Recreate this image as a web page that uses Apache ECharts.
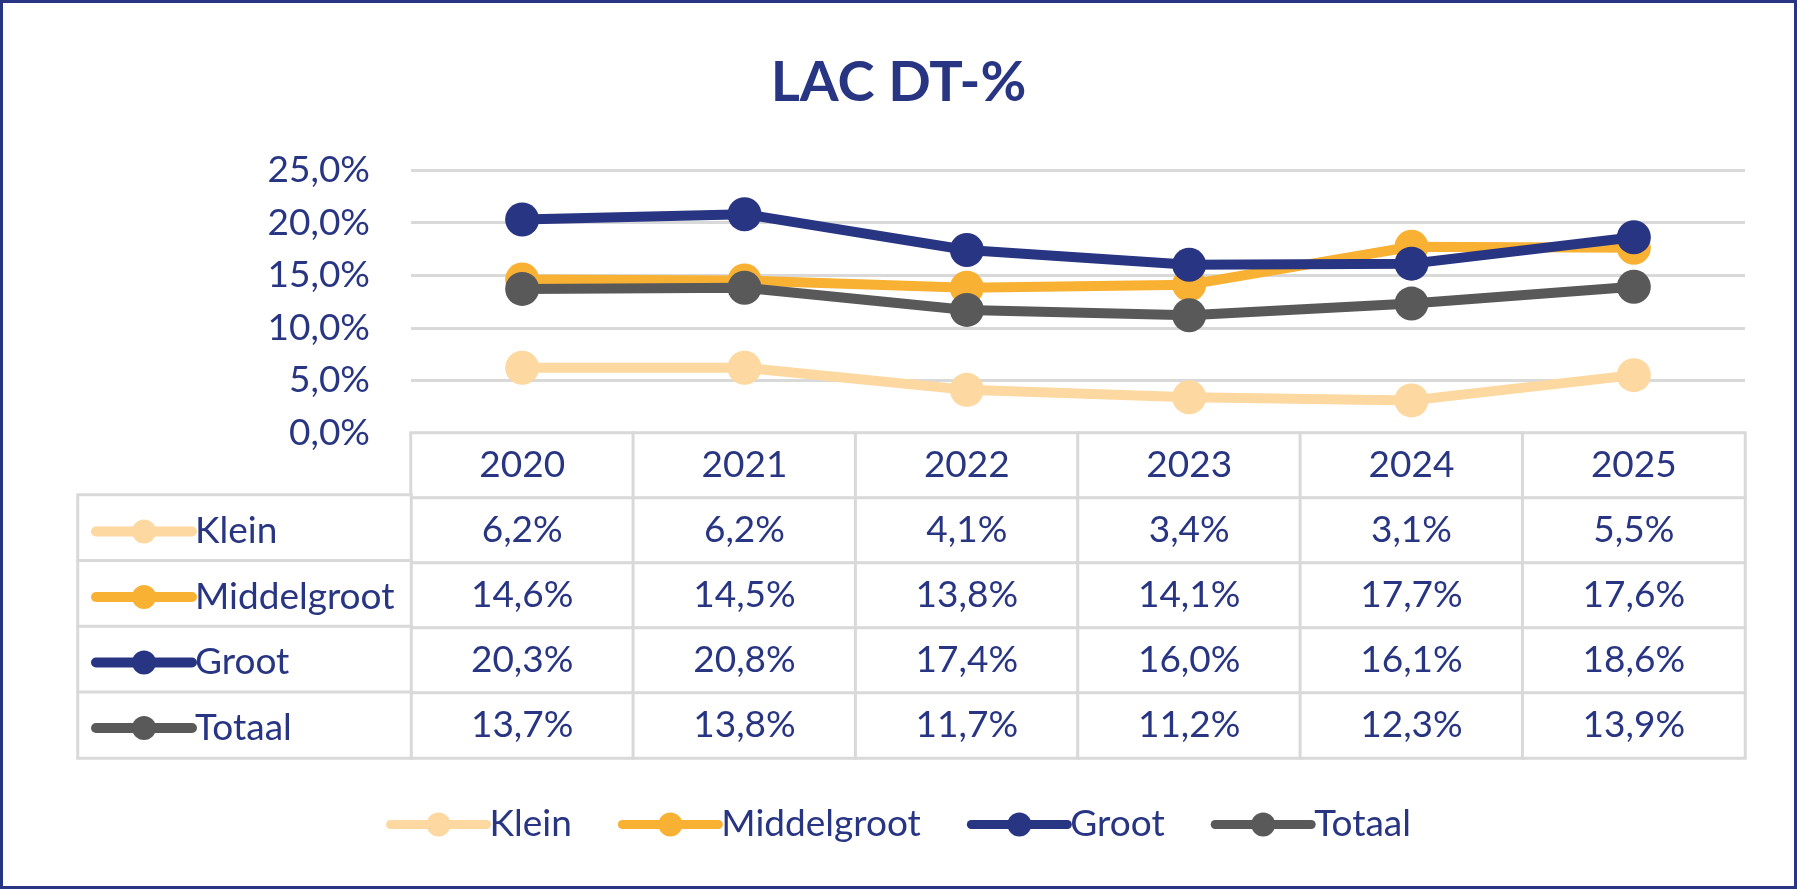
<!DOCTYPE html>
<html>
<head>
<meta charset="utf-8">
<script src="https://cdn.jsdelivr.net/npm/echarts@6/dist/echarts.min.js"></script>
<style>
    html, body { margin: 0; padding: 0; background: #fff; }
    #main { width: 1797px; height: 889px; }
</style>
</head>
<body>
<div id="main"></div>
<script>
var years = ['2020', '2021', '2022', '2023', '2024', '2025'];
var names = ['Klein', 'Middelgroot', 'Groot', 'Totaal'];
var klein = [6.2, 6.2, 4.1, 3.4, 3.1, 5.5];
var middelgroot = [14.6, 14.5, 13.8, 14.1, 17.7, 17.6];
var groot = [20.3, 20.8, 17.4, 16.0, 16.1, 18.6];
var totaal = [13.7, 13.8, 11.7, 11.2, 12.3, 13.9];
var yMin = 0, yMax = 25, yStep = 5;   // y-as ticks 0,0% .. 25,0%

var colors = ['#FDD8A0', '#F8B133', '#283583', '#595959'];
var navy = '#283583';
var border = '#D9D9D9';
var font = 'Lato, "Open Sans", sans-serif';

var seriesValues = [klein, middelgroot, groot, totaal];

function pct(v) {
    return v.toFixed(1).replace('.', ',') + '%';
}

// tabel onder de grafiek: rij 0 = jaartallen, rij 1..4 = waarden
var tableData = [];
years.forEach(function (y, i) {
    tableData.push([i, 0, 0]);
});
seriesValues.forEach(function (vals, r) {
    vals.forEach(function (v, i) {
        tableData.push([i, r + 1, v]);
    });
});
var labelCells = names.map(function (n, r) { return [0, r, 0]; });

var myChart = echarts.init(document.getElementById('main'));

var lineSeries = names.map(function (n, k) {
    return {
        name: n,
        type: 'line',
        xAxisIndex: 0,
        yAxisIndex: 0,
        data: seriesValues[k],
        symbol: 'circle',
        symbolSize: 34,
        lineStyle: { width: 10, color: colors[k] },
        itemStyle: { color: colors[k] },
        z: 3 + k
    };
});

var option = {
    backgroundColor: '#fff',
    color: colors,
    textStyle: { fontFamily: font },
    title: {
        text: 'LAC DT-%',
        left: 'center',
        top: 50,
        textStyle: { fontSize: 56, fontWeight: 'bold', color: navy, fontFamily: font }
    },
    legend: [{
        data: names,
        orient: 'horizontal',
        left: 'center',
        top: 801,
        itemWidth: 96,
        itemHeight: 30,
        itemGap: 46,
        lineStyle: { width: 9, cap: 'round' },
        textStyle: { fontSize: 37, color: navy, fontFamily: font, padding: [0, 0, 0, -2] },
        selectedMode: false
    }, {
        data: names,
        orient: 'vertical',
        left: 86,
        top: 508,
        itemWidth: 96,
        itemHeight: 30,
        itemGap: 28.5,
        lineStyle: { width: 10, cap: 'round' },
        textStyle: { fontSize: 37, color: navy, fontFamily: font, padding: [0, 0, 0, -2] },
        selectedMode: false
    }],
    grid: [
        { left: 411, right: 52, top: 170, height: 263 },     // grafiek
        { left: 411, right: 52, top: 433, height: 325 },     // tabel met waarden
        { left: 78, width: 333, top: 495, height: 263 }      // kolom met reeksnamen
    ],
    xAxis: [{
        gridIndex: 0,
        type: 'category',
        data: years,
        boundaryGap: true,
        axisLine: { lineStyle: { color: border, width: 3 } },
        axisTick: { show: false },
        axisLabel: { show: false }
    }, {
        gridIndex: 1,
        type: 'category',
        data: years,
        show: false
    }, {
        gridIndex: 2,
        type: 'category',
        data: [''],
        show: false
    }],
    yAxis: [{
        gridIndex: 0,
        type: 'value',
        min: yMin,
        max: yMax,
        interval: yStep,
        axisLine: { show: false },
        axisTick: { show: false },
        splitLine: { lineStyle: { color: border, width: 3 } },
        axisLabel: {
            margin: 41,
            fontSize: 37,
            color: navy,
            fontFamily: font,
            formatter: function (v) { return pct(v); }
        }
    }, {
        gridIndex: 1,
        type: 'category',
        data: ['', 'Klein', 'Middelgroot', 'Groot', 'Totaal'],
        inverse: true,
        show: false
    }, {
        gridIndex: 2,
        type: 'category',
        data: names,
        inverse: true,
        show: false
    }],
    series: lineSeries.concat([{
        type: 'heatmap',
        xAxisIndex: 1,
        yAxisIndex: 1,
        data: tableData,
        itemStyle: { color: '#fff', borderColor: border, borderWidth: 3 },
        label: {
            show: true,
            fontSize: 37,
            color: navy,
            fontFamily: font,
            formatter: function (p) {
                return p.value[1] === 0 ? years[p.value[0]] : pct(p.value[2]);
            }
        },
        emphasis: { disabled: true },
        z: 1
    }, {
        type: 'heatmap',
        xAxisIndex: 2,
        yAxisIndex: 2,
        data: labelCells,
        itemStyle: { color: '#fff', borderColor: border, borderWidth: 3 },
        label: { show: false },
        emphasis: { disabled: true },
        z: 1
    }]),
    graphic: [{
        type: 'rect',
        shape: { x: 1.5, y: 1.5, width: 1794, height: 886 },
        style: { fill: 'none', stroke: navy, lineWidth: 3 },
        silent: true
    }]
};

myChart.setOption(option);
</script>
</body>
</html>
